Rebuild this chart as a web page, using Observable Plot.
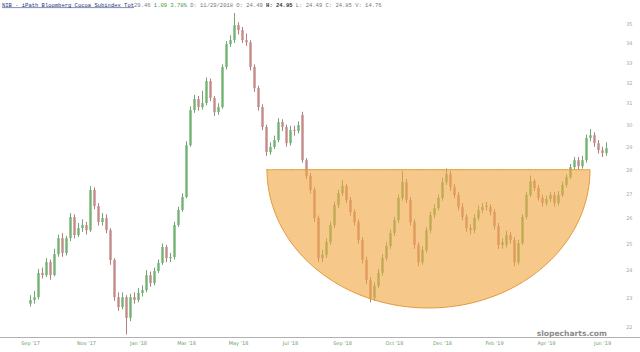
<!DOCTYPE html>
<html><head><meta charset="utf-8">
<script src="https://cdn.jsdelivr.net/npm/d3@7"></script>
<script src="https://cdn.jsdelivr.net/npm/@observablehq/plot@0.6"></script>
<style>
body{margin:0;background:#fff;}
#wrap{position:relative;width:640px;height:352px;overflow:hidden;}
#baseline{position:absolute;left:0;top:337px;width:640px;height:1px;background:#b0b0b0;}
</style></head><body>
<div id="wrap"><div id="chart"></div><div id="baseline"></div></div>
<script>
// ---- data (price, one candle per ~3 trading days) ----
const open = [22.80,22.93,23.03,23.90,23.82,24.30,23.82,24.60,25.21,24.64,25.21,26.04,25.33,25.60,25.72,25.52,27.14,26.48,25.84,26.00,
25.52,24.38,23.03,22.68,23.03,22.31,23.03,22.93,23.18,23.28,23.82,23.53,23.97,24.27,24.87,24.45,24.49,25.72,26.32,26.85,
29.07,30.68,31.20,30.82,31.01,32.07,31.25,30.58,30.82,32.77,33.94,34.15,34.94,34.68,34.15,34.04,32.77,31.73,30.82,29.89,
28.77,28.99,29.30,30.12,29.89,29.16,29.75,29.71,30.45,28.41,27.73,27.14,26.00,24.45,24.57,25.06,25.72,26.52,27.01,27.31,
26.73,26.24,25.84,25.14,24.38,23.64,23.00,23.43,23.90,24.45,24.91,25.41,25.92,26.81,27.47,26.73,25.84,24.95,24.30,24.75,
25.52,26.12,26.40,26.81,27.47,27.81,27.26,26.93,26.44,26.04,25.60,25.52,26.00,26.32,26.44,26.44,26.24,25.68,24.95,24.95,
25.33,25.14,24.30,25.02,26.04,26.93,27.51,27.22,26.81,26.60,26.77,26.93,26.60,26.93,27.35,27.68,28.11,28.41,28.15,28.41,
29.39,29.52,29.16,28.85,28.72];
const close = [22.93,23.03,23.90,23.82,24.30,23.82,24.60,25.21,24.64,25.21,26.04,25.33,25.60,25.72,25.52,27.14,26.48,25.84,26.00,25.52,
24.38,23.03,22.68,23.03,22.31,23.03,22.93,23.18,23.28,23.82,23.53,23.97,24.27,24.87,24.45,24.49,25.72,26.32,26.85,29.07,
30.68,31.20,30.82,31.01,32.07,31.25,30.58,30.82,32.77,33.94,34.15,34.94,34.68,34.15,34.04,32.77,31.73,30.82,29.89,28.77,
28.99,29.30,30.12,29.89,29.16,29.75,29.71,29.98,28.41,27.73,27.14,26.00,24.45,24.57,25.06,25.72,26.52,27.01,27.31,26.73,
26.24,25.84,25.14,24.38,23.64,23.00,23.43,23.90,24.45,24.91,25.41,25.92,26.81,27.47,26.73,25.84,24.95,24.30,24.75,25.52,
26.12,26.40,26.81,27.47,27.81,27.26,26.93,26.44,26.04,25.60,25.52,26.00,26.32,26.44,26.50,26.24,25.68,24.95,25.05,25.33,
25.14,24.30,25.02,26.04,26.93,27.51,27.22,26.81,26.60,26.77,26.93,26.60,26.93,27.35,27.68,28.11,28.41,28.15,28.41,29.39,
29.52,29.16,28.85,28.72,28.94];
const high = [23.10,23.25,24.05,24.10,24.45,24.40,24.80,25.35,25.40,25.30,26.20,26.15,25.80,25.95,25.85,27.30,27.25,26.60,26.20,26.15,
25.60,24.45,23.20,23.20,23.10,23.15,23.20,23.35,23.45,24.00,23.95,24.10,24.40,25.00,24.95,24.65,25.85,26.45,27.00,29.25,
30.85,31.40,31.35,31.60,32.25,32.20,31.35,31.00,32.90,34.10,34.40,35.60,35.10,34.85,34.50,34.15,32.90,31.85,30.95,30.00,
29.20,29.50,30.30,30.25,30.00,29.95,29.95,30.15,30.60,28.50,27.85,27.25,26.10,24.75,25.20,25.85,26.65,27.15,27.55,27.40,
26.85,26.35,25.95,25.25,24.50,23.75,23.55,24.05,24.60,25.05,25.55,26.05,26.95,27.95,27.60,26.85,25.95,25.05,24.90,25.65,
26.25,26.55,26.95,27.65,28.05,27.95,27.40,27.05,26.60,26.15,25.75,26.15,26.50,26.60,26.65,26.55,26.35,25.80,25.20,25.50,
25.45,25.25,25.15,26.15,27.05,27.75,27.60,27.35,26.95,26.90,27.05,27.05,27.10,27.50,27.80,28.25,28.55,28.55,28.60,29.55,
29.80,29.65,29.30,29.00,29.20];
const low = [22.70,22.80,22.95,23.70,23.75,23.65,23.78,24.50,24.50,24.55,25.10,25.20,25.25,25.45,25.35,25.45,26.35,25.70,25.70,25.40,
24.20,22.90,22.55,22.60,21.75,22.20,22.80,22.85,23.05,23.20,23.40,23.45,23.90,24.20,24.30,24.30,24.40,25.65,26.25,26.80,
29.00,30.55,30.65,30.70,30.90,31.10,30.40,30.45,30.75,32.65,33.80,34.00,34.45,34.00,33.85,32.60,31.55,30.65,29.75,28.60,
28.65,28.90,29.20,29.70,29.00,29.05,29.50,29.60,28.30,27.60,27.00,25.85,24.30,24.30,24.45,24.95,25.60,26.40,26.90,26.60,
26.10,25.70,25.00,24.25,23.50,22.85,22.90,23.35,23.80,24.35,24.80,25.30,25.80,26.70,26.60,25.70,24.80,24.15,24.20,24.65,
25.40,26.00,26.30,26.70,27.35,27.10,26.80,26.30,25.90,25.45,25.35,25.40,25.90,26.20,26.30,26.10,25.55,24.80,24.80,24.85,
25.00,24.15,24.20,24.95,25.95,26.85,27.10,26.70,26.45,26.50,26.65,26.45,26.50,26.85,27.25,27.60,28.00,28.00,28.05,28.30,
29.25,29.00,28.70,28.55,28.60];
const yTicks = [22,23,24,25,26,27,28,29,30,31,32,33,34,35];
const xTickIndex = [0,14,27,39,52,65,78,91,103,116,129,143];
const xTickLabel = ["Sep '17","Nov '17","Jan '18","Mar '18","May '18","Jul '18","Sep '18","Oct '18","Dec '18","Feb '19","Apr '19","Jun '19"];
// rounding-bottom (cup) annotation: start/end candle index, rim and bottom price
const cupStart = 59.25, cupEnd = 140, cupRim = 28.0, cupBottom = 22.65;

const data = close.map((c, i) => ({i, o: open[i], h: high[i], l: low[i], c}));
const isUp = d => d.c >= d.o;

// cup outline (half ellipse in screen space: log y)
const cup = d3.range(0, 121).map(k => {
  const t = k / 120 * Math.PI;
  const cx = (cupStart + cupEnd) / 2, rx = (cupEnd - cupStart) / 2;
  const ly = Math.log(cupRim) - (Math.log(cupRim) - Math.log(cupBottom)) * Math.sin(t);
  return {x: cx - rx * Math.cos(t), y: Math.exp(ly), rim: cupRim};
});

const chart = Plot.plot({
  width: 640, height: 352,
  marginLeft: 0, marginRight: 25, marginTop: 5, marginBottom: 15,
  x: {domain: [-7.5, 146.25], axis: null},
  y: {type: "log", domain: [21.665, 36.04], axis: null},
  style: {background: "#fff"},
  marks: [
    Plot.ruleX(data, {x: "i", y1: "l", y2: "h", stroke: d => isUp(d) ? "#4f8f4f" : "#9a5f5f", strokeWidth: 0.8}),
    Plot.ruleX(data, {x: "i", y1: "o", y2: "c", stroke: d => isUp(d) ? "#72b372" : "#c48a8a", strokeWidth: 2.4}),
    Plot.areaY(cup, {x: "x", y1: "rim", y2: "y", fill: "#f0a640", fillOpacity: 0.62, stroke: "#e39a3a", strokeWidth: 1}),
    Plot.text(yTicks, {y: d => d, text: d => String(d), frameAnchor: "right", dx: 17, fontSize: 5, fill: "#a8a8a8", fontFamily: "DejaVu Sans"}),
    Plot.text(xTickIndex, {x: d => d, text: (d, k) => xTickLabel[k], frameAnchor: "bottom", dy: 7, fontSize: 5, fill: "#6f9a6f", fontFamily: "DejaVu Sans"})
  ]
});
document.getElementById("chart").append(chart);

const svg = d3.select(chart);
const hdr = svg.append("text").attr("x", 2).attr("y", 6.5).attr("text-anchor", "start")
  .attr("font-family", "Liberation Mono, monospace").attr("font-size", 5.5).attr("xml:space", "preserve");
hdr.append("tspan").attr("fill", "#23357a").attr("text-decoration", "underline").text("NIB - iPath Bloomberg Cocoa Subindex Tot");
hdr.append("tspan").attr("fill", "#777").text("29.46 ");
hdr.append("tspan").attr("fill", "#3f9a3f").text("1.09 3.78% ");
hdr.append("tspan").attr("fill", "#777").text("D: 11/29/2018 O: 24.49 ");
hdr.append("tspan").attr("fill", "#333").attr("font-weight", "bold").text("H: 24.95 ");
hdr.append("tspan").attr("fill", "#777").text("L: 24.49 C: 24.85 V: 14.76");
svg.append("text").attr("x", 607).attr("y", 336).attr("text-anchor", "end")
  .attr("font-family", "DejaVu Sans").attr("font-weight", "bold").attr("font-size", 7.6)
  .attr("fill", "#8c8c8c").text("slopecharts.com");
</script>
</body></html>
